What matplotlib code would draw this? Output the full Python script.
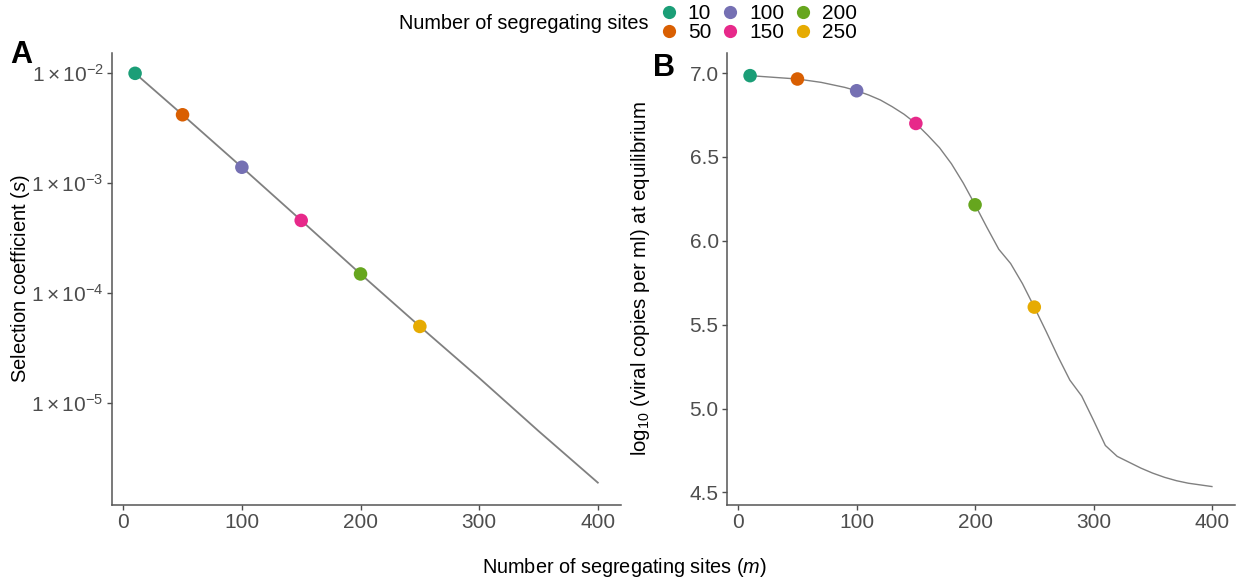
import matplotlib
matplotlib.use("Agg")
import matplotlib.pyplot as plt
from matplotlib.lines import Line2D

# data
sites_pts = [10, 50, 100, 150, 200, 250]
pt_colors = ["#1B9E77", "#D95F02", "#7570B3", "#E7298A", "#66A61E", "#E6AB02"]

# panel A: selection coefficient
m_a = [10, 50, 100, 150, 200, 250, 300, 350, 400]
s_a = [1.0e-2, 4.2e-3, 1.4e-3, 4.6e-4, 1.5e-4, 5.0e-5, 1.7e-5, 5.6e-6, 1.9e-6]
s_pts = [1.0e-2, 4.2e-3, 1.4e-3, 4.6e-4, 1.5e-4, 5.0e-5]

# panel B: log10 viral load at equilibrium
m_b = [10, 20, 30, 40, 50, 60, 70, 80, 90, 100, 110, 120, 130, 140, 150, 160, 170, 180, 190, 200,
       210, 220, 230, 240, 250, 260, 270, 280, 290, 300, 310, 320, 330, 340, 350, 360, 370, 380, 390, 400]
v_b = [6.985, 6.98, 6.975, 6.97, 6.965, 6.955, 6.945, 6.93, 6.915, 6.895, 6.87, 6.84, 6.80, 6.755, 6.70,
       6.63, 6.555, 6.46, 6.345, 6.215, 6.08, 5.95, 5.865, 5.745, 5.605, 5.46, 5.31, 5.17, 5.075, 4.93,
       4.78, 4.715, 4.68, 4.645, 4.615, 4.59, 4.57, 4.555, 4.545, 4.535]
v_pts = [6.985, 6.965, 6.895, 6.70, 6.215, 5.605]

plt.rcParams['font.family'] = ['Liberation Sans', 'DejaVu Sans']
plt.rcParams['mathtext.fontset'] = 'custom'
plt.rcParams['mathtext.rm'] = 'Liberation Sans'
plt.rcParams['mathtext.it'] = 'Liberation Sans:italic'

tick_col = "#4D4D4D"
axis_col = "#555555"

fig = plt.figure(figsize=(12.37, 5.8), dpi=100)
axA = fig.add_axes([0.0905, 0.1293, 0.4115, 0.7793])
axB = fig.add_axes([0.5877, 0.1293, 0.4107, 0.7793])

for ax in (axA, axB):
    for sp in ("top", "right"):
        ax.spines[sp].set_visible(False)
    for sp in ("left", "bottom"):
        ax.spines[sp].set_color(axis_col)
        ax.spines[sp].set_linewidth(1.1)
    ax.tick_params(colors=tick_col, labelsize=15, length=3.5, width=1, labelcolor=tick_col, pad=2.5)
    ax.set_xlim(-9.5, 419.5)
    ax.set_xticks([0, 100, 200, 300, 400])

# A
axA.plot(m_a, s_a, color="#808080", lw=1.3, zorder=1)
axA.scatter(sites_pts, s_pts, c=pt_colors, s=95, zorder=2, edgecolors="none")
axA.set_yscale("log")
axA.set_ylim(1.19e-6, 1.53e-2)
axA.set_yticks([1e-2, 1e-3, 1e-4, 1e-5])
axA.set_yticklabels([r"$1\times10^{-2}$", r"$1\times10^{-3}$", r"$1\times10^{-4}$", r"$1\times10^{-5}$"])
axA.minorticks_off()
axA.set_ylabel("Selection coefficient ($s$)", fontsize=14.5, labelpad=-0.5)

# B
axB.plot(m_b, v_b, color="#808080", lw=1.0, zorder=1)
axB.scatter(sites_pts, v_pts, c=pt_colors, s=95, zorder=2, edgecolors="none")
axB.set_ylim(4.425, 7.12)
axB.set_yticks([4.5, 5.0, 5.5, 6.0, 6.5, 7.0])
axB.set_yticklabels(["4.5", "5.0", "5.5", "6.0", "6.5", "7.0"])
axB.set_ylabel("log$_{10}$ (viral copies per ml) at equilibrium", fontsize=14.7, labelpad=27)

fig.text(0.505, 0.022, "Number of segregating sites ($m$)", ha="center", va="center", fontsize=14.3)
fig.text(0.008, 0.905, "A", fontsize=22, fontweight="bold", ha="left", va="center")
fig.text(0.528, 0.883, "B", fontsize=22, fontweight="bold", ha="left", va="center")

handles = [Line2D([], [], ls="none", marker="o", ms=9.5, mfc=c, mec="none") for c in pt_colors]
fig.text(0.5239, 0.96, "Number of segregating sites", ha="right", va="center", fontsize=14.3)
fig.legend(handles, [str(v) for v in sites_pts], ncol=3, loc="center left",
           bbox_to_anchor=(0.5324, 0.9595), frameon=False, fontsize=15,
           handletextpad=0.4, columnspacing=0.42, labelspacing=0.0, handlelength=1.0,
           borderpad=0.0, borderaxespad=0.0)

fig.savefig("out.png", dpi=100)
